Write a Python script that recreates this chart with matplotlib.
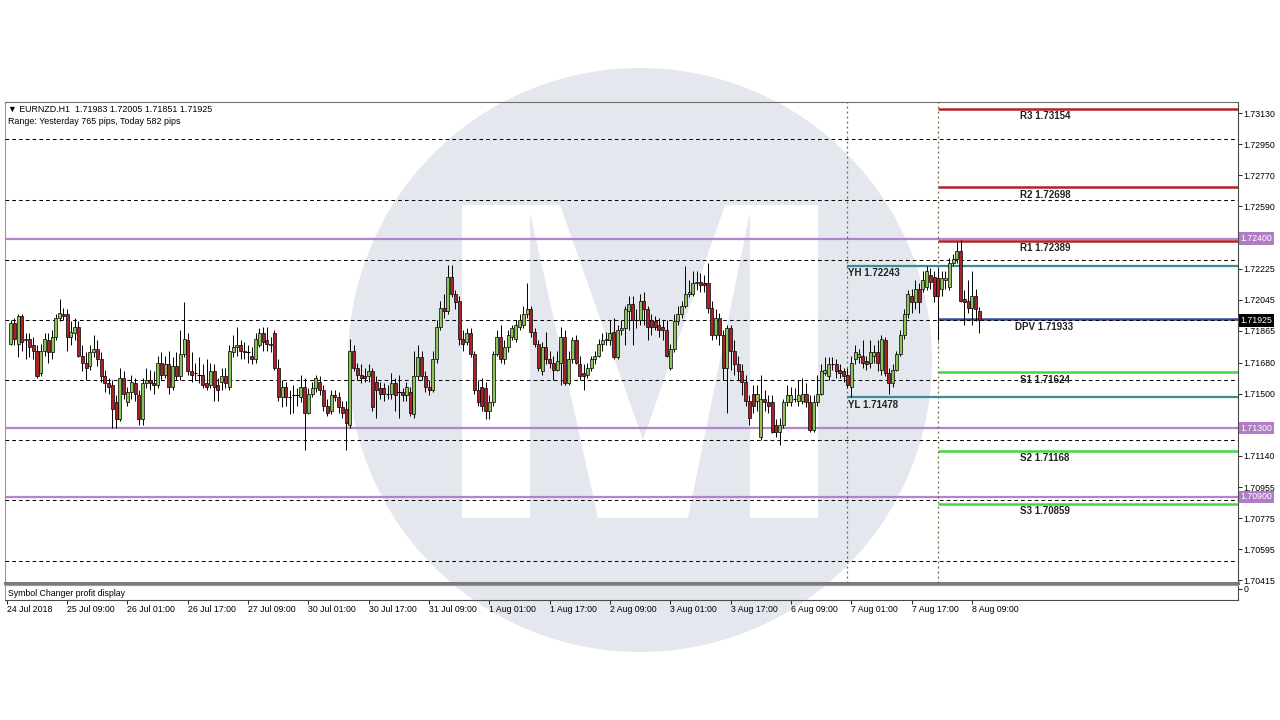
import matplotlib
matplotlib.use("Agg")
import matplotlib.pyplot as plt
from matplotlib.patches import Circle, Polygon

plt.rcParams['font.family'] = ['Liberation Sans', 'DejaVu Sans']

# ---------------- data ----------------
header_line1 = "\u25BC EURNZD.H1  1.71983 1.72005 1.71851 1.71925"
header_line2 = "Range: Yesterday 765 pips, Today 582 pips"
sub_title = "Symbol Changer profit display"

opens = [
    1.7179, 1.7191, 1.7179, 1.7195, 1.7181, 1.7182, 1.7178, 1.7175, 1.7162, 1.7175,
    1.7181, 1.7174, 1.7183, 1.7194, 1.7196, 1.7196, 1.7183, 1.7185, 1.7189, 1.7172,
    1.7168, 1.7166, 1.7174, 1.7176, 1.7170, 1.7160, 1.7156, 1.7155, 1.7145, 1.7135,
    1.7159, 1.7145, 1.7151, 1.7156, 1.7149, 1.7135, 1.7156, 1.7158, 1.7156, 1.7155,
    1.7168, 1.7161, 1.7167, 1.7154, 1.7166, 1.7160, 1.7173, 1.7181, 1.7163, 1.7162,
    1.7161, 1.7161, 1.7156, 1.7155, 1.7163, 1.7155, 1.7157, 1.7160, 1.7154, 1.7174,
    1.7177, 1.7178, 1.7175, 1.7174, 1.7172, 1.7170, 1.7178, 1.7185, 1.7181, 1.7178,
    1.7185, 1.7165, 1.7148, 1.7154, 1.7148, 1.7149, 1.7149, 1.7148, 1.7154, 1.7139,
    1.7150, 1.7153, 1.7157, 1.7152, 1.7143, 1.7140, 1.7149, 1.7148, 1.7142, 1.7141,
    1.7132, 1.7175, 1.7165, 1.7161, 1.7160, 1.7160, 1.7163, 1.7157, 1.7153, 1.7153,
    1.7150, 1.7150, 1.7156, 1.7151, 1.7151, 1.7149, 1.7151, 1.7138, 1.7160, 1.7171,
    1.7160, 1.7154, 1.7152, 1.7170, 1.7189, 1.7200, 1.7198, 1.7218, 1.7208, 1.7204,
    1.7182, 1.7180, 1.7185, 1.7173, 1.7152, 1.7154, 1.7153, 1.7140, 1.7145, 1.7173,
    1.7183, 1.7170, 1.7177, 1.7183, 1.7182, 1.7189, 1.7190, 1.7196, 1.7199, 1.7186,
    1.7179, 1.7163, 1.7177, 1.7170, 1.7168, 1.7164, 1.7168, 1.7183, 1.7156, 1.7170,
    1.7181, 1.7167, 1.7162, 1.7161, 1.7165, 1.7170, 1.7172, 1.7179, 1.7181, 1.7181,
    1.7186, 1.7171, 1.7187, 1.7188, 1.7198, 1.7202, 1.7193, 1.7193, 1.7204, 1.7199,
    1.7193, 1.7192, 1.7190, 1.7189, 1.7187, 1.7165, 1.7176, 1.7192, 1.7196, 1.7201,
    1.7208, 1.7208, 1.7214, 1.7215, 1.7214, 1.7214, 1.7200, 1.7184, 1.7194, 1.7184,
    1.7165, 1.7188, 1.7175, 1.7167, 1.7163, 1.7157, 1.7146, 1.7150, 1.7146, 1.7125,
    1.7147, 1.7145, 1.7145, 1.7132, 1.7128, 1.7132, 1.7145, 1.7145, 1.7147, 1.7146,
    1.7146, 1.7150, 1.7145, 1.7129, 1.7145, 1.7150, 1.7162, 1.7160, 1.7167, 1.7167,
    1.7164, 1.7163, 1.7161, 1.7154, 1.7170, 1.7171, 1.7172, 1.7169, 1.7168, 1.7172,
    1.7174, 1.7164, 1.7181, 1.7162, 1.7156, 1.7164, 1.7173, 1.7184, 1.7196, 1.7207,
    1.7203, 1.7211, 1.7211, 1.7212, 1.7219, 1.7218, 1.7217, 1.7211, 1.7216, 1.7212,
    1.7226, 1.7228, 1.7233, 1.7205, 1.7204, 1.7200, 1.7207, 1.71983,
]
highs = [
    1.7193, 1.7194, 1.7196, 1.7196, 1.7185, 1.7185, 1.7183, 1.7178, 1.7179, 1.7185,
    1.7185, 1.7187, 1.7196, 1.7205, 1.7200, 1.7199, 1.7192, 1.7194, 1.7192, 1.7178,
    1.7174, 1.7178, 1.7184, 1.7181, 1.7174, 1.7164, 1.7159, 1.7158, 1.7149, 1.7165,
    1.7163, 1.7154, 1.7161, 1.7159, 1.7152, 1.7159, 1.7165, 1.7164, 1.7163, 1.7172,
    1.7174, 1.7172, 1.7175, 1.7171, 1.7174, 1.7187, 1.7203, 1.7185, 1.7174, 1.7168,
    1.7171, 1.7167, 1.7170, 1.7168, 1.7167, 1.7159, 1.7165, 1.7165, 1.7178, 1.7184,
    1.7189, 1.7181, 1.7180, 1.7178, 1.7177, 1.7185, 1.7188, 1.7189, 1.7189, 1.7183,
    1.7187, 1.7170, 1.7158, 1.7157, 1.7152, 1.7155, 1.7153, 1.7161, 1.7159, 1.7153,
    1.7157, 1.7161, 1.7160, 1.7155, 1.7147, 1.7152, 1.7152, 1.7151, 1.7146, 1.7146,
    1.7182, 1.7178, 1.7168, 1.7167, 1.7165, 1.7167, 1.7165, 1.7160, 1.7157, 1.7156,
    1.7155, 1.7162, 1.7159, 1.7161, 1.7153, 1.7157, 1.7154, 1.7175, 1.7178, 1.7175,
    1.7163, 1.7158, 1.7175, 1.7193, 1.7204, 1.7208, 1.7225, 1.7225, 1.7210, 1.7207,
    1.7187, 1.7188, 1.7188, 1.7175, 1.7158, 1.7159, 1.7157, 1.7149, 1.7175, 1.7187,
    1.7190, 1.7181, 1.7187, 1.7190, 1.7193, 1.7196, 1.7201, 1.7214, 1.7201, 1.7188,
    1.7181, 1.7180, 1.7186, 1.7175, 1.7172, 1.7175, 1.7189, 1.7187, 1.7175, 1.7183,
    1.7184, 1.7172, 1.7167, 1.7168, 1.7172, 1.7175, 1.7182, 1.7185, 1.7186, 1.7193,
    1.7194, 1.7190, 1.7193, 1.7201, 1.7207, 1.7207, 1.7199, 1.7208, 1.7209, 1.7201,
    1.7196, 1.7195, 1.7194, 1.7193, 1.7193, 1.7179, 1.7196, 1.7201, 1.7204, 1.7224,
    1.7216, 1.7221, 1.7221, 1.7220, 1.7219, 1.7226, 1.7204, 1.7199, 1.7197, 1.7187,
    1.7190, 1.7190, 1.7181, 1.7172, 1.7167, 1.7161, 1.7149, 1.7155, 1.7155, 1.7161,
    1.7152, 1.7149, 1.7149, 1.7135, 1.7136, 1.7147, 1.7155, 1.7154, 1.7153, 1.7158,
    1.7159, 1.7156, 1.7149, 1.7149, 1.7161, 1.7167, 1.7171, 1.7171, 1.7171, 1.7170,
    1.7167, 1.7165, 1.7165, 1.7172, 1.7178, 1.7176, 1.7181, 1.7172, 1.7181, 1.7178,
    1.7181, 1.7184, 1.7183, 1.7165, 1.7167, 1.7175, 1.7187, 1.7199, 1.7210, 1.7211,
    1.7216, 1.7214, 1.7221, 1.72243, 1.7223, 1.7221, 1.7223, 1.7221, 1.7221, 1.7229,
    1.7231, 1.7238, 1.72395, 1.7210, 1.7216, 1.7221, 1.7211, 1.72005,
]
lows = [
    1.7178, 1.7178, 1.7171, 1.7175, 1.7170, 1.7171, 1.7170, 1.7159, 1.7160, 1.7172,
    1.7168, 1.7170, 1.7181, 1.7192, 1.7193, 1.7175, 1.7178, 1.7181, 1.7171, 1.7163,
    1.7158, 1.7164, 1.7171, 1.7166, 1.7157, 1.7151, 1.7150, 1.7130, 1.7130, 1.7134,
    1.7147, 1.7143, 1.7147, 1.7146, 1.7132, 1.7132, 1.7153, 1.7152, 1.7150, 1.7153,
    1.7158, 1.7159, 1.7150, 1.7152, 1.7158, 1.7158, 1.7171, 1.7161, 1.7157, 1.7158,
    1.7156, 1.7153, 1.7152, 1.7153, 1.7146, 1.7146, 1.7152, 1.7153, 1.7152, 1.7171,
    1.7172, 1.7170, 1.7170, 1.7168, 1.7167, 1.7168, 1.7177, 1.7175, 1.7175, 1.7174,
    1.7164, 1.7146, 1.7142, 1.7143, 1.7138, 1.7139, 1.7143, 1.7145, 1.7117, 1.7138,
    1.7148, 1.7151, 1.7149, 1.7140, 1.7137, 1.7138, 1.7146, 1.7139, 1.7136, 1.7117,
    1.7130, 1.7163, 1.7158, 1.7156, 1.7157, 1.7157, 1.7140, 1.7136, 1.7147, 1.7146,
    1.7147, 1.7147, 1.7140, 1.7136, 1.7146, 1.7146, 1.7137, 1.7136, 1.7158, 1.7158,
    1.7151, 1.7149, 1.7151, 1.7168, 1.7187, 1.7194, 1.7196, 1.7206, 1.7199, 1.7178,
    1.7175, 1.7178, 1.7171, 1.7150, 1.7143, 1.7140, 1.7135, 1.7135, 1.7143, 1.7172,
    1.7168, 1.7167, 1.7174, 1.7181, 1.7180, 1.7187, 1.7188, 1.7194, 1.7183, 1.7177,
    1.7163, 1.7161, 1.7167, 1.7165, 1.7158, 1.7163, 1.7155, 1.7155, 1.7155, 1.7168,
    1.7167, 1.7158, 1.7152, 1.7159, 1.7163, 1.7167, 1.7171, 1.7175, 1.7178, 1.7178,
    1.7170, 1.7170, 1.7184, 1.7178, 1.7187, 1.7178, 1.7188, 1.7190, 1.7190, 1.7181,
    1.7184, 1.7187, 1.7183, 1.7181, 1.7171, 1.7164, 1.7174, 1.7190, 1.7194, 1.7200,
    1.7206, 1.7207, 1.7210, 1.7209, 1.7209, 1.7197, 1.7181, 1.7182, 1.7178, 1.7158,
    1.7139, 1.7164, 1.7161, 1.7158, 1.7149, 1.7143, 1.7132, 1.7139, 1.7140, 1.7123,
    1.7140, 1.7139, 1.7127, 1.7125, 1.7120, 1.7130, 1.7143, 1.7143, 1.7145, 1.7143,
    1.7144, 1.7142, 1.7128, 1.7128, 1.7143, 1.7149, 1.7161, 1.7158, 1.7164, 1.7159,
    1.7159, 1.7157, 1.7153, 1.71478, 1.7167, 1.7168, 1.7165, 1.7164, 1.7165, 1.7168,
    1.7163, 1.7161, 1.7160, 1.7150, 1.7154, 1.7163, 1.7172, 1.7182, 1.7194, 1.7197,
    1.7199, 1.7197, 1.7209, 1.7210, 1.7211, 1.7203, 1.71813, 1.7207, 1.7211, 1.7210,
    1.7224, 1.7226, 1.7203, 1.7190, 1.7197, 1.7190, 1.7192, 1.71851,
]
closes = [
    1.7191, 1.7182, 1.7195, 1.7180, 1.7182, 1.7177, 1.7175, 1.7160, 1.7175, 1.7182,
    1.7174, 1.7183, 1.7194, 1.7197, 1.7195, 1.7183, 1.7186, 1.7189, 1.7172, 1.7168,
    1.7165, 1.7174, 1.7176, 1.7170, 1.7160, 1.7156, 1.7154, 1.7141, 1.7135, 1.7159,
    1.7150, 1.7151, 1.7157, 1.7150, 1.7135, 1.7156, 1.7158, 1.7156, 1.7155, 1.7168,
    1.7161, 1.7167, 1.7154, 1.7166, 1.7160, 1.7173, 1.7182, 1.7163, 1.7161, 1.7162,
    1.7161, 1.7155, 1.7154, 1.7163, 1.7154, 1.7152, 1.7160, 1.7156, 1.7175, 1.7177,
    1.7178, 1.7175, 1.7174, 1.7174, 1.7170, 1.7182, 1.7185, 1.7180, 1.7179, 1.7179,
    1.7165, 1.7148, 1.7154, 1.7148, 1.7148, 1.7149, 1.7149, 1.7154, 1.7139, 1.7150,
    1.7153, 1.7159, 1.7152, 1.7143, 1.7139, 1.7149, 1.7148, 1.7142, 1.7139, 1.7133,
    1.7175, 1.7165, 1.7161, 1.7159, 1.7159, 1.7163, 1.7142, 1.7152, 1.7150, 1.7150,
    1.7150, 1.7156, 1.7149, 1.7151, 1.7149, 1.7154, 1.7139, 1.7160, 1.7171, 1.7160,
    1.7154, 1.7152, 1.7170, 1.7189, 1.7200, 1.7198, 1.7218, 1.7208, 1.7203, 1.7182,
    1.7179, 1.7185, 1.7173, 1.7152, 1.7145, 1.7143, 1.7140, 1.7145, 1.7173, 1.7183,
    1.7170, 1.7177, 1.7184, 1.7188, 1.7190, 1.7193, 1.7196, 1.7199, 1.7186, 1.7179,
    1.7165, 1.7177, 1.7170, 1.7168, 1.7164, 1.7169, 1.7183, 1.7156, 1.7170, 1.7181,
    1.7168, 1.7160, 1.7160, 1.7165, 1.7170, 1.7172, 1.7179, 1.7181, 1.7182, 1.7185,
    1.7171, 1.7187, 1.7188, 1.7199, 1.7202, 1.7193, 1.7193, 1.7204, 1.7199, 1.7189,
    1.7189, 1.7189, 1.7187, 1.7187, 1.7172, 1.7176, 1.7192, 1.7196, 1.7201, 1.7208,
    1.7209, 1.7214, 1.7215, 1.7213, 1.7213, 1.7200, 1.7184, 1.7194, 1.7184, 1.7165,
    1.7188, 1.7175, 1.7167, 1.7163, 1.7157, 1.7146, 1.7136, 1.7143, 1.7150, 1.7147,
    1.7145, 1.7143, 1.7128, 1.7128, 1.7132, 1.7145, 1.7149, 1.7149, 1.7147, 1.7149,
    1.7150, 1.7145, 1.7129, 1.7145, 1.7150, 1.7163, 1.7164, 1.7167, 1.7167, 1.7163,
    1.7162, 1.7160, 1.7155, 1.7168, 1.7174, 1.7173, 1.7168, 1.7167, 1.7174, 1.7174,
    1.7168, 1.7182, 1.7162, 1.7156, 1.7164, 1.7173, 1.7184, 1.7196, 1.7208, 1.7203,
    1.7211, 1.7203, 1.7216, 1.7221, 1.7215, 1.7207, 1.7207, 1.7217, 1.7217, 1.7226,
    1.7228, 1.7233, 1.7204, 1.7203, 1.7200, 1.7207, 1.7199, 1.71925,
]

x_tick_positions = [-1, 15, 31, 47, 63, 79, 95, 111, 127, 143, 159, 175, 191, 207, 223, 239, 255]
x_tick_labels = ["24 Jul 2018", "25 Jul 09:00", "26 Jul 01:00", "26 Jul 17:00", "27 Jul 09:00",
                 "30 Jul 01:00", "30 Jul 17:00", "31 Jul 09:00", "1 Aug 01:00", "1 Aug 17:00",
                 "2 Aug 09:00", "3 Aug 01:00", "3 Aug 17:00", "6 Aug 09:00", "7 Aug 01:00",
                 "7 Aug 17:00", "8 Aug 09:00"]
y_tick_values = [1.73130, 1.72950, 1.72770, 1.72590, 1.72225, 1.72045, 1.71865, 1.71680,
                 1.71500, 1.71140, 1.70955, 1.70775, 1.70595, 1.70415]
grid_levels = [1.72979, 1.72625, 1.72276, 1.71928, 1.71579, 1.71231, 1.70882, 1.70528]
purple_levels = [1.72400, 1.71300, 1.70900]
pivot_names = ["R3", "R2", "R1", "DPV", "S1", "S2", "S3"]
pivot_values = [1.73154, 1.72698, 1.72389, 1.71933, 1.71624, 1.71168, 1.70859]
yday_names = ["YH", "YL"]
yday_values = [1.72243, 1.71478]
day_start_bars = [222, 246]
current_price = closes[-1]

# ---------------- layout ----------------
W, H = 1280, 720
XMIN, XMAX = -1.49, 325.6
YMIN, YMAX = 1.703998, 1.731944

fig = plt.figure(figsize=(W / 100, H / 100), dpi=100)
fig.patch.set_facecolor("white")

# watermark (pixel coordinates)
bg = fig.add_axes([0, 0, 1, 1], zorder=0)
bg.set_xlim(0, W)
bg.set_ylim(H, 0)
bg.axis("off")
bg.add_patch(Circle((640, 360), 292, facecolor="#e4e7ed", edgecolor="none"))
m_shape = [(462, 518), (462, 205), (560, 205), (643, 440), (725, 205), (818, 205),
           (818, 518), (750, 518), (750, 212), (688, 518), (598, 518), (530, 212), (530, 518)]
bg.add_patch(Polygon(m_shape, closed=True, facecolor="white", edgecolor="none"))

ax = fig.add_axes([5 / W, 1 - 583 / H, 1233 / W, 481 / H], zorder=2)
ax.set_facecolor("none")
ax.set_xlim(XMIN, XMAX)
ax.set_ylim(YMIN, YMAX)

# grid
ax.hlines(grid_levels, XMIN, XMAX, colors="black", linewidth=0.75,
          linestyles=(0, (3.5, 3)), zorder=3)
# day separators
for d in day_start_bars:
    ax.axvline(d, color="#6a6a3c", linewidth=0.9, linestyle=(0, (1.5, 2.5)), zorder=3)
# purple horizontal levels
for lv in purple_levels:
    ax.axhline(lv, color="#b384c8", linewidth=1.6, zorder=2.5)

# pivots
pivot_colors = {"R": "#b3222a", "D": "#2d4f9c", "S": "#44d644"}
for name, val in zip(pivot_names, pivot_values):
    col = pivot_colors[name[0]]
    ax.plot([day_start_bars[1], XMAX], [val, val], color=col, linewidth=1.8,
            solid_capstyle="butt", zorder=2.6)
    lx = 266.4 if name == "DPV" else 267.7
    ax.annotate(f"{name} {val:.5f}", xy=(lx, val), xytext=(0, -1.8), textcoords="offset points",
                ha="left", va="top", fontsize=7, fontweight="bold", color="#222222", zorder=6)
for name, val in zip(yday_names, yday_values):
    ax.plot([day_start_bars[0], XMAX], [val, val], color="#3b8c97", linewidth=1.6,
            solid_capstyle="butt", zorder=2.6)
    ax.annotate(f"{name} {val:.5f}", xy=(day_start_bars[0] + 0.2, val), xytext=(0, -1.8),
                textcoords="offset points", ha="left", va="top", fontsize=7,
                fontweight="bold", color="#222222", zorder=6)

# candles
n = len(closes)
xs = list(range(n))
ax.vlines(xs, lows, highs, colors="black", linewidth=0.7, zorder=4)
up_x = [i for i in xs if closes[i] > opens[i]]
dn_x = [i for i in xs if closes[i] < opens[i]]
dj_x = [i for i in xs if closes[i] == opens[i]]
ax.bar(up_x, [closes[i] - opens[i] for i in up_x], bottom=[opens[i] for i in up_x],
       width=0.8, color="#8cc456", edgecolor="black", linewidth=0.5, zorder=5)
ax.bar(dn_x, [opens[i] - closes[i] for i in dn_x], bottom=[closes[i] for i in dn_x],
       width=0.8, color="#a8222a", edgecolor="black", linewidth=0.5, zorder=5)
ax.hlines([opens[i] for i in dj_x], [i - 0.45 for i in dj_x], [i + 0.45 for i in dj_x],
          colors="black", linewidth=0.8, zorder=5)

# axes styling
ax.set_xticks([])
ax.yaxis.tick_right()
ax.set_yticks(y_tick_values)
ax.set_yticklabels([f"{v:.5f}" for v in y_tick_values])
ax.tick_params(axis="y", length=3, width=0.6, pad=1.0, labelsize=6.3, colors="black")
for side, col, lw in [("top", "#6e6e6e", 0.8), ("left", "#9a9a9a", 0.8),
                      ("right", "#4a4a4a", 0.8), ("bottom", "#7a7a7a", 2.2)]:
    ax.spines[side].set_color(col)
    ax.spines[side].set_linewidth(lw)

# right-side price boxes
for lv in purple_levels:
    ax.annotate(f"{lv:.5f}", xy=(1.0, lv), xycoords=("axes fraction", "data"),
                xytext=(2.0, 0), textcoords="offset points", ha="left", va="center",
                fontsize=6.3, color="white", annotation_clip=False, zorder=10,
                bbox=dict(boxstyle="square,pad=0.2", facecolor="#b07cc6", edgecolor="none"))
ax.annotate(f"{current_price:.5f}", xy=(1.0, current_price), xycoords=("axes fraction", "data"),
            xytext=(2.0, 0), textcoords="offset points", ha="left", va="center",
            fontsize=6.3, color="white", annotation_clip=False, zorder=10,
            bbox=dict(boxstyle="square,pad=0.2", facecolor="black", edgecolor="none"))

# header text
fig.text(8 / W, 1 - 109 / H, header_line1, fontsize=6.4, va="center", ha="left")
fig.text(8 / W, 1 - 122 / H, header_line2, fontsize=6.4, va="center", ha="left")

# sub window
sub = fig.add_axes([5 / W, 1 - 600 / H, 1233 / W, 15 / H], zorder=2)
sub.set_facecolor("none")
sub.set_xlim(XMIN, XMAX)
sub.set_ylim(0, 1)
sub.text(0.0025, 0.45, sub_title, transform=sub.transAxes, va="center", ha="left", fontsize=6.3)
sub.set_xticks(x_tick_positions)
sub.set_xticklabels(x_tick_labels, fontsize=6.3)
for lbl in sub.get_xticklabels():
    lbl.set_horizontalalignment("left")
sub.tick_params(axis="x", length=3, width=0.6, pad=0.5, colors="black")
sub.yaxis.tick_right()
sub.set_yticks([0.75])
sub.set_yticklabels(["0"])
sub.tick_params(axis="y", length=3, width=0.6, pad=1.0, labelsize=6.3)
for side, col, lw in [("top", "#9a9a9a", 0.8), ("left", "#9a9a9a", 0.8),
                      ("right", "#4a4a4a", 0.8), ("bottom", "#4a4a4a", 0.8)]:
    sub.spines[side].set_color(col)
    sub.spines[side].set_linewidth(lw)

fig.savefig("out.png", dpi=100)
